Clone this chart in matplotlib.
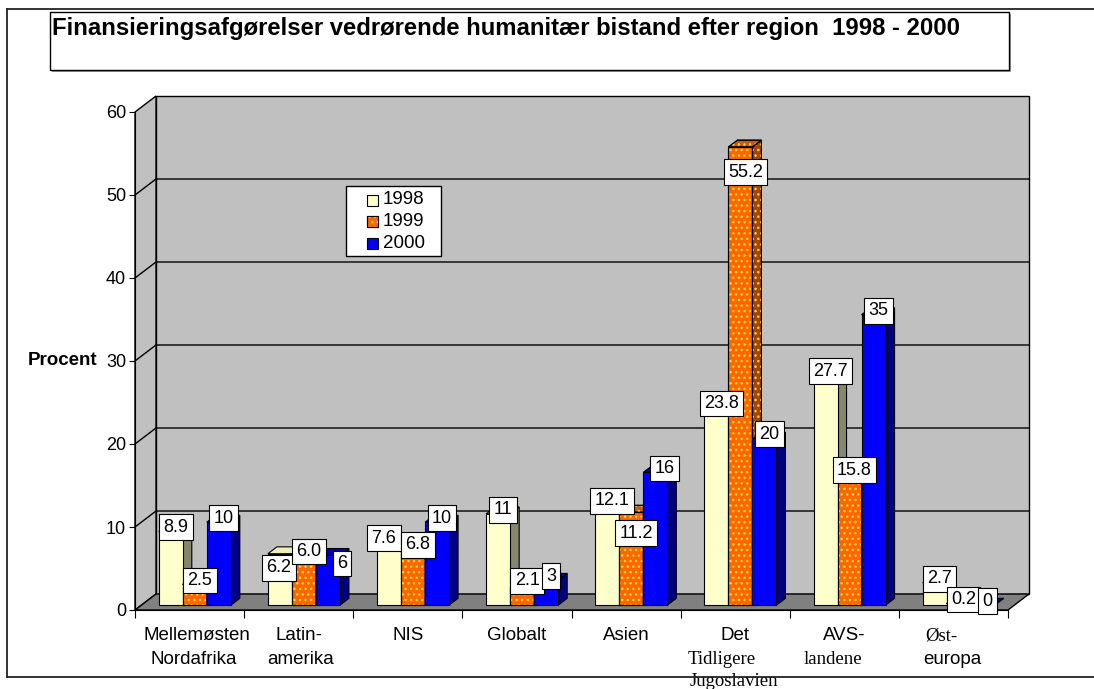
import matplotlib
matplotlib.use('Agg')
import matplotlib.pyplot as plt
from matplotlib.patches import Polygon, Rectangle
from matplotlib.lines import Line2D

plt.rcParams['font.family'] = ['Liberation Sans', 'DejaVu Sans']

# Data
categories = ['Mellemøsten\nNordafrika', 'Latin-\namerika', 'NIS', 'Globalt', 'Asien',
              'Det\nTidligere\nJugoslavien', 'AVS-\nlandene', 'Øst-\neuropa']
years = ['1998', '1999', '2000']
v1998 = [8.9, 6.2, 7.6, 11, 12.1, 23.8, 27.7, 2.7]
v1999 = [2.5, 6.0, 6.8, 2.1, 11.2, 55.2, 15.8, 0.2]
v2000 = [10, 6, 10, 3, 16, 20, 35, 0]
lab1998 = ['8.9', '6.2', '7.6', '11', '12.1', '23.8', '27.7', '2.7']
lab1999 = ['2.5', '6.0', '6.8', '2.1', '11.2', '55.2', '15.8', '0.2']
lab2000 = ['10', '6', '10', '3', '16', '20', '35', '0']
yticks = [0, 10, 20, 30, 40, 50, 60]

series = [v1998, v1999, v2000]
labels = [lab1998, lab1999, lab2000]

# Styles (front, side, top)
colors = [('#FFFFCC', '#86866E', '#EEEEBB'),
          ('#FF6600', '#A84400', '#C85A10'),
          ('#0000FF', '#000080', '#0000B0')]
dots = '#FFD633'
serif_lines = {'Tidligere', 'Jugoslavien', 'landene', 'Øst-'}
line_dx = {'Mellemøsten': 7, 'Nordafrika': 4, 'Tidligere': -13, 'Jugoslavien': -1,
           'landene': -11, 'Øst-': -12, 'europa': -1, 'amerika': 2}
# manual label nudges (series, category) -> pixels
label_dy = {(1, 5): -25, (1, 4): -21, (0, 1): -14, (1, 3): 7, (2, 1): -8, (2, 5): 5}
label_dx = {(0, 2): -5, (2, 1): 14, (0, 1): -1, (2, 4): 9}

W, H = 1094, 689
fig = plt.figure(figsize=(W / 100, H / 100), dpi=100)
ax = fig.add_axes([135 / W, 79 / H, 873 / W, 498 / H])
ax.set_xlim(0, len(categories))
ax.set_ylim(0, 60)
ax.patch.set_visible(False)

ncat = len(categories)
DX = 21 / (873 / ncat)   # depth in data units
DY = 16 / (498 / 60)
FRONT, BD, BW, GAP = 0.3, 0.43, 0.22, 0.16

# Outer frame and title box
for xs, ys in [([7, W + 5], [9, 9]), ([7, 7], [9, 677]), ([7, W + 5], [677, 677])]:
    fig.add_artist(Line2D([x / W for x in xs], [1 - y / H for y in ys], color='#222222', lw=1.3))
fig.add_artist(Rectangle((52 / W, 1 - 72 / H), 959 / W, 58 / H, fc='#999999', ec='none'))
fig.add_artist(Rectangle((50 / W, 1 - 70 / H), 959 / W, 58 / H, fc='white', ec='black', lw=1))
fig.text(52 / W, 1 - 28 / H, 'Finansieringsafgørelser vedrørende humanitær bistand efter region  1998 - 2000',
         fontsize=17.2, fontweight='bold', va='center', ha='left')

# Walls and floor
kw = dict(clip_on=False, ec='black', lw=1, zorder=0.5)
ax.add_patch(Polygon([(DX, DY), (ncat + DX, DY), (ncat + DX, 60 + DY), (DX, 60 + DY)], fc='#C0C0C0', **kw))
ax.add_patch(Polygon([(0, 0), (DX, DY), (DX, 60 + DY), (0, 60)], fc='#C0C0C0', **kw))
ax.add_patch(Polygon([(0, 0), (ncat, 0), (ncat + DX, DY), (DX, DY)], fc='#808080', **kw))
for y in yticks[1:-1]:
    ax.plot([0, DX, ncat + DX], [y, y + DY, y + DY], color='black', lw=1, clip_on=False, zorder=0.6)

# Bars
for i in range(ncat):
    for j, vals in enumerate(series):
        v = vals[i]
        fc, sc, tc = colors[j]
        z = 2 + 0.01 * (i * 3 + j)
        x0 = i + GAP + j * BW + FRONT * DX
        y0 = FRONT * DY
        y1 = v + FRONT * DY
        bx, by = BD * DX, BD * DY
        front = [(x0, y0), (x0 + BW, y0), (x0 + BW, y1), (x0, y1)]
        side = [(x0 + BW, y0), (x0 + BW + bx, y0 + by), (x0 + BW + bx, y1 + by), (x0 + BW, y1)]
        top = [(x0, y1), (x0 + BW, y1), (x0 + BW + bx, y1 + by), (x0 + bx, y1 + by)]
        for pts, c in [(side, sc), (top, tc), (front, fc)]:
            ax.add_patch(Polygon(pts, fc=c, ec='black', lw=0.8, clip_on=False, zorder=z))
            if j == 1 and v > 0:
                ax.add_patch(Polygon(pts, fc='none', ec=dots, lw=0, hatch='...',
                                     clip_on=False, zorder=z + 0.003))
                ax.add_patch(Polygon(pts, fc='none', ec='black', lw=0.8, clip_on=False, zorder=z + 0.006))
        ax.annotate(labels[j][i], xy=(x0 + BW / 2, y1),
                    xytext=(label_dx.get((j, i), 5), label_dy.get((j, i), 4)),
                    textcoords='offset pixels', ha='center', va='center', fontsize=13,
                    annotation_clip=False, zorder=10,
                    bbox=dict(boxstyle='square,pad=0.24', fc='white', ec='black', lw=0.8))

# Axes
for s in ['top', 'right']:
    ax.spines[s].set_visible(False)
ax.spines['left'].set_zorder(3)
ax.spines['bottom'].set_zorder(3)
ax.set_yticks(yticks)
ax.tick_params(axis='y', direction='out', length=4.5, labelsize=13, pad=2)
ax.set_xticks(range(ncat + 1))
ax.set_xticklabels([])
ax.tick_params(axis='x', direction='out', length=6)
ax.set_ylabel('Procent', rotation=0, fontsize=13.5, fontweight='bold', ha='right', va='center')
ax.yaxis.set_label_coords(-0.043, 0.5)

# Category labels
for i, cat in enumerate(categories):
    for k, line in enumerate(cat.split('\n')):
        serif = line in serif_lines
        ax.annotate(line, xy=(i + 0.5, 0), xytext=(line_dx.get(line, 0), -26 - 23 * k),
                    textcoords='offset pixels', ha='center', va='center',
                    fontsize=13.5, annotation_clip=False,
                    family='Liberation Serif' if serif else 'Liberation Sans')

# Legend (drawn as a framed box with swatches)
lx, ly, lw_, lh = 346, 186, 95, 70
fig.add_artist(Rectangle((lx / W, 1 - (ly + lh) / H), lw_ / W, lh / H, fc='white', ec='black', lw=1))
for k, yr in enumerate(years):
    yc = ly + 14 + 21.5 * k
    box = ((lx + 21) / W, 1 - (yc + 5.5) / H)
    fig.add_artist(Rectangle(box, 11 / W, 11 / H, fc=colors[k][0], ec='black', lw=0.8))
    if k == 1:
        fig.add_artist(Rectangle(box, 11 / W, 11 / H, fc='none', ec=dots, lw=0, hatch='...'))
        fig.add_artist(Rectangle(box, 11 / W, 11 / H, fc='none', ec='black', lw=0.8))
    fig.text((lx + 37) / W, 1 - yc / H, yr, fontsize=13.5, va='center', ha='left')

fig.savefig('out.png', dpi=100)
